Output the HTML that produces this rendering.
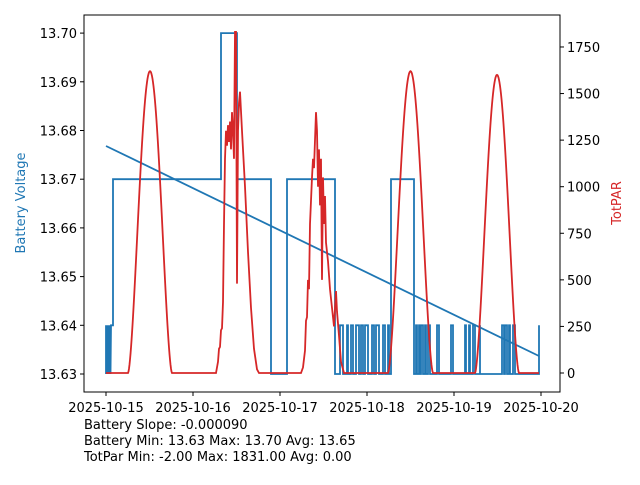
<!DOCTYPE html>
<html><head><style>
body{margin:0;background:#fff;}
svg{font-family:"DejaVu Sans","Liberation Sans",sans-serif;}
</style></head><body>
<svg id="s" width="640" height="480" xmlns="http://www.w3.org/2000/svg">
<rect width="640" height="480" fill="#fff"/>
<g id="plot"></g>
<rect x="84" y="15" width="476" height="377" fill="none" stroke="#000" stroke-width="1"/>
<g id="ticks" font-size="13" fill="#000"></g>
<text x="25" y="203" font-size="13" fill="#1f77b4" text-anchor="middle" transform="rotate(-90 25 203)">Battery Voltage</text>
<text x="621" y="203" font-size="13" fill="#d62728" text-anchor="middle" transform="rotate(-90 621 203)">TotPAR</text>
<text x="84" y="429" font-size="13">Battery Slope: -0.000090</text>
<text x="84" y="445" font-size="13">Battery Min: 13.63 Max: 13.70 Avg: 13.65</text>
<text x="84" y="461" font-size="13">TotPar Min: -2.00 Max: 1831.00 Avg: 0.00</text>
</svg>
<script>
var NS="http://www.w3.org/2000/svg";
function el(p,t,a,txt){var e=document.createElementNS(NS,t);for(var k in a)e.setAttribute(k,a[k]);if(txt!==undefined)e.textContent=txt;p.appendChild(e);return e;}
var plot=document.getElementById('plot'),tk=document.getElementById('ticks');
function yv(v){return 374-(v-13.63)*4870;}
function yp(v){return 373-v*0.1863;}
["13.63","13.64","13.65","13.66","13.67","13.68","13.69","13.70"].forEach(function(s){var y=yv(+s);el(tk,'line',{x1:80,x2:84,y1:y,y2:y,stroke:'#000'});el(tk,'text',{x:77,y:y+5,'text-anchor':'end'},s);});
[0,250,500,750,1000,1250,1500,1750].forEach(function(v){var y=yp(v);el(tk,'line',{x1:560,x2:564,y1:y,y2:y,stroke:'#000'});el(tk,'text',{x:567,y:y+5},String(v));});
for(var d=0;d<6;d++){var x=106+87*d;el(tk,'line',{x1:x,x2:x,y1:392,y2:396,stroke:'#000'});el(tk,'text',{x:x,y:412,'text-anchor':'middle'},'2025-10-'+(15+d));}
var a=13.63,b=13.64,c=13.67,h=13.70;
var pts=[[106,a]];
for(var x=106;x<111;x+=1){pts.push([x,b],[x+0.5,a]);}
pts.push([111,b],[113,b],[113,c],[221,c],[221,h],[237,h],[237,c],[271,c],[271,a],[287,a],[287,c],[335,c],[335,a]);
var sp=[340,343,347,348,351,353,356,359,361,363,365,368,372,374,376,379,383,385,388];
var cur=a;sp.forEach(function(x){var n=cur==a?b:a;pts.push([x,cur],[x,n]);cur=n;});
pts.push([389,cur],[389,a],[391,a],[391,c],[414,c],[414,a]);
cur=a;[416,417,419,420,421,423,425,426,428,430,437,439,451,453,465,466,469,470,473,475,480].forEach(function(x){var n=cur==a?b:a;pts.push([x,cur],[x,n]);cur=n;});
pts.push([480,a],[502,a]);cur=a;[502,504,505,507,509,510,513,515].forEach(function(x){var n=cur==a?b:a;pts.push([x,cur],[x,n]);cur=n;});
pts.push([539,cur],[539,b],[539,a]);
el(plot,'polyline',{points:pts.map(function(p){return p[0]+','+yv(p[1]).toFixed(1)}).join(' '),fill:'none',stroke:'#1f77b4','stroke-width':1.8});
el(plot,'line',{x1:106,y1:146,x2:539,y2:356,stroke:'#1f77b4','stroke-width':1.8});
var r=[];
function bump(x0,x1,pk){for(var x=x0;x<=x1;x+=0.5){var t=(x-x0)/(x1-x0);r.push([x,pk*Math.pow(Math.sin(Math.PI*t),1.6)]);}}
function man(list){list.forEach(function(p){r.push(p);});}
r.push([106,0]);
bump(128,172,1620);
man([[216,0],[218,60],[219,130],[220,140],[221,230],[222,240],[223,380],[224,800],[225,1150],[226,1300],[227,1220],[228,1330],[229,1240],[230,1350],[231,1200],[232,1400],[233,1300],[234,1150],[235,1831],[236,1831],[237,480],[238,1300],[239,1450],[240,1510],[242,1300],[245,1000],[248,650],[251,350],[254,130],[257,20],[259,0]]);
man([[301,0],[303,30],[305,120],[306,280],[307,300],[308,500],[309,450],[310,800],[312,1050],[313,1150],[314,1100],[315,1250],[316,1400],[317,1300],[318,1000],[319,1200],[320,900],[321,1150],[322,500],[323,1050],[324,800],[325,950],[326,700],[328,600],[330,450],[332,350],[334,250],[336,440],[337,330],[339,200],[341,60],[344,0]]);
bump(388,433,1620);
bump(475,519,1600);
r.push([539,0]);
el(plot,'polyline',{points:r.map(function(p){return p[0]+','+yp(p[1]).toFixed(1)}).join(' '),fill:'none',stroke:'#d62728','stroke-width':1.8});
</script>
</body></html>
